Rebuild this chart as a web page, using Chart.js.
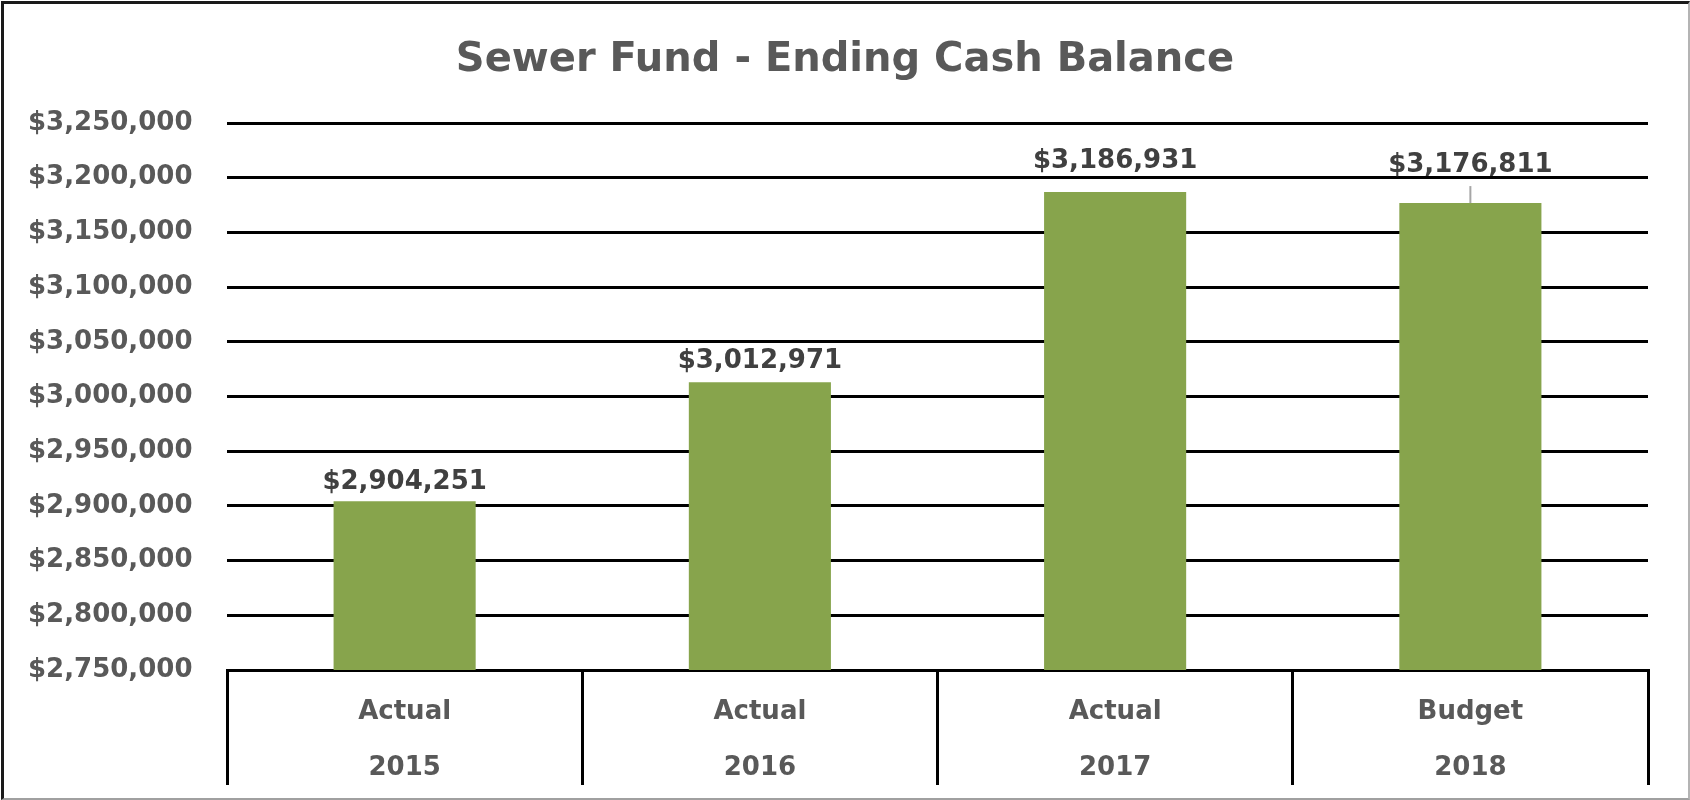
<!DOCTYPE html>
<html>
<head>
<meta charset="utf-8">
<title>Sewer Fund - Ending Cash Balance</title>
<script src="https://cdn.jsdelivr.net/npm/chart.js@4.4.1/dist/chart.umd.min.js"></script>
<style>
  html, body { margin: 0; padding: 0; background: #fff; }
  #wrap { position: relative; width: 1690px; height: 800px; }
  #frame {
    position: absolute; left: 1px; top: 1px; right: 0; bottom: 0;
    border-left: 3px solid #1a1a1a; border-top: 3px solid #1a1a1a;
    border-right: 2px solid #b4b4b4; border-bottom: 2px solid #a0a0a0;
    pointer-events: none;
  }
</style>
</head>
<body>
<div id="wrap">
  <canvas id="chart" width="1690" height="800"></canvas>
  <div id="frame"></div>
</div>
<script>
// data
const categories = [['Actual', '2015'], ['Actual', '2016'], ['Actual', '2017'], ['Budget', '2018']];
const balances = [2904251, 3012971, 3186931, 3176811];
const yMin = 2750000;
const yMax = 3250000;
const yStep = 50000;

// how far each value label sits above its bar (the last one was dragged up in the original)
const labelLift = [12, 14, 24, 31];

const FONT = '"DejaVu Sans", "Noto Sans", sans-serif';
const money = v => '$' + Math.round(v).toLocaleString('en-US');

const barLabels = {
    id: 'barLabels',
    afterDatasetsDraw(chart) {
        const ctx = chart.ctx;
        const meta = chart.getDatasetMeta(0);
        ctx.save();
        ctx.font = 'bold 26px ' + FONT;
        ctx.fillStyle = '#404040';
        ctx.textAlign = 'center';
        ctx.textBaseline = 'alphabetic';
        meta.data.forEach((bar, i) => {
            const y = bar.y - labelLift[i];
            ctx.fillText(money(balances[i]), bar.x, y);
            if (labelLift[i] > 28) {
                // leader line
                ctx.strokeStyle = '#a6a6a6';
                ctx.lineWidth = 2;
                ctx.beginPath();
                ctx.moveTo(bar.x, y + 14);
                ctx.lineTo(bar.x, bar.y);
                ctx.stroke();
            }
        });
        ctx.restore();
    }
};

new Chart(document.getElementById('chart'), {
    type: 'bar',
    data: {
        labels: categories,
        datasets: [{
            label: 'Ending Cash Balance',
            data: balances,
            backgroundColor: '#87a44c',
            borderWidth: 0,
            barPercentage: 0.4,
            categoryPercentage: 1
        }]
    },
    options: {
        responsive: false,
        animation: false,
        devicePixelRatio: 1,
        // equal side padding so the title centres on the page
        layout: {padding: {left: 42, right: 42, top: 0, bottom: 15}},
        plugins: {
            legend: {display: false},
            tooltip: {enabled: false},
            title: {
                display: true,
                text: 'Sewer Fund - Ending Cash Balance',
                color: '#595959',
                font: {family: FONT, size: 40, weight: 'bold'},
                padding: {top: 37, bottom: 38}
            }
        },
        scales: {
            x: {
                grid: {
                    drawOnChartArea: false,
                    drawTicks: true,
                    tickLength: 115,
                    color: '#000',
                    lineWidth: 3
                },
                border: {display: true, color: '#000', width: 3},
                ticks: {
                    color: '#595959',
                    font: {family: FONT, size: 26, weight: 'bold', lineHeight: 56 / 26},
                    padding: -101,
                    maxRotation: 0,
                    autoSkip: false
                },
                afterFit(scale) { scale.height = 115; }
            },
            y: {
                min: yMin,
                max: yMax,
                grid: {color: '#000', lineWidth: 3, drawTicks: false},
                border: {display: false},
                ticks: {
                    stepSize: yStep,
                    color: '#595959',
                    font: {family: FONT, size: 26, weight: 'bold'},
                    // mirrored labels are not clipped to the axis box, so they can reach past the padding
                    mirror: true,
                    padding: -199,
                    callback: v => money(v)
                },
                afterFit(scale) { scale.width = 185; }
            }
        }
    },
    plugins: [barLabels]
});
</script>
</body>
</html>
